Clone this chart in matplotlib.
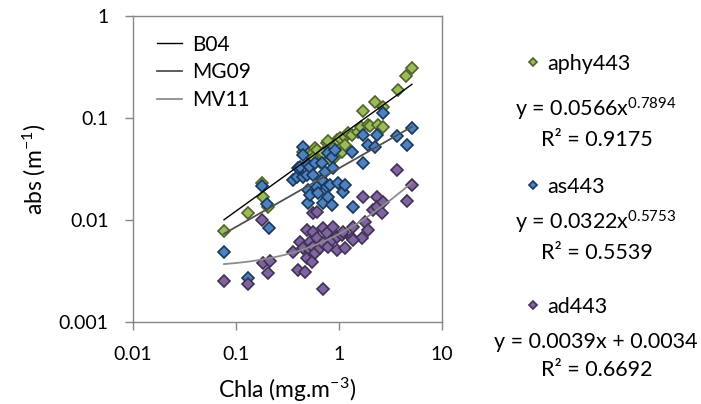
import numpy as np
import matplotlib as mpl
mpl.use('Agg')
import matplotlib.pyplot as plt
from matplotlib.ticker import FixedLocator, FixedFormatter, NullLocator

#
#--- absorption at 443 nm versus chlorophyll a
#
chl_aphy = [0.0765, 0.131, 0.179, 0.183, 0.2045, 0.447, 0.489, 0.535, 0.585, 0.612,
            0.559, 0.654, 0.731, 0.684, 0.765, 0.818, 0.818, 0.914, 0.956, 1.023,
            1.069, 1.144, 1.144, 1.223, 1.337, 1.529, 1.635, 1.71, 1.912, 2.0,
            2.237, 2.392, 2.674, 2.674, 3.74, 4.47, 5.11, 0.782, 0.699]
aphy443 = [0.0078, 0.0117, 0.0231, 0.0168, 0.0134, 0.0464, 0.0454, 0.0434, 0.0508, 0.0486,
           0.0405, 0.0370, 0.0405, 0.0434, 0.0569, 0.0434, 0.0388, 0.0415, 0.0608, 0.0637,
           0.0464, 0.0651, 0.0544, 0.0713, 0.0681, 0.0729, 0.0816, 0.1171, 0.0854, 0.0835,
           0.1435, 0.0854, 0.1282, 0.0816, 0.188, 0.258, 0.309, 0.0595, 0.0454]

chl_as = [0.0765, 0.131, 0.179, 0.200, 0.209, 0.358, 0.391, 0.400, 0.418, 0.447,
          0.447, 0.447, 0.489, 0.500, 0.500, 0.500, 0.523, 0.523, 0.559, 0.585,
          0.612, 0.625, 0.684, 0.684, 0.699, 0.731, 0.765, 0.782, 0.782, 0.818,
          0.855, 0.855, 0.874, 0.914, 0.978, 1.093, 1.144, 1.337, 1.367, 1.71,
          1.71, 1.912, 2.237, 2.339, 2.674, 3.657, 4.574, 5.113]
as443 = [0.00486, 0.00270, 0.0215, 0.0144, 0.00835, 0.0247, 0.0264, 0.0324, 0.0331, 0.0520,
         0.0434, 0.0264, 0.0276, 0.0346, 0.0197, 0.0147, 0.0176, 0.0331, 0.0276, 0.0362,
         0.0211, 0.0184, 0.0362, 0.0247, 0.0147, 0.0296, 0.0211, 0.0454, 0.0168, 0.0220,
         0.0415, 0.0140, 0.0324, 0.0486, 0.0231, 0.0188, 0.0220, 0.0464, 0.0134, 0.0681,
         0.0362, 0.0544, 0.0520, 0.0681, 0.1119, 0.0666, 0.0544, 0.0798]

chl_ad = [0.0765, 0.131, 0.179, 0.183, 0.214, 0.2045, 0.358, 0.400, 0.4675, 0.418,
          0.447, 0.489, 0.489, 0.523, 0.523, 0.547, 0.559, 0.559, 0.559, 0.585,
          0.612, 0.612, 0.654, 0.699, 0.699, 0.699, 0.765, 0.782, 0.855, 0.874,
          0.956, 0.956, 1.069, 1.144, 1.337, 1.367, 1.672, 1.71, 1.788, 1.912,
          2.139, 2.339, 2.339, 2.616, 2.674, 3.657, 4.574, 5.113, 1.367, 1.093]
ad443 = [0.00252, 0.00236, 0.0100, 0.00379, 0.00396, 0.00302, 0.00486, 0.00324, 0.00309, 0.00608,
         0.00531, 0.00798, 0.00424, 0.00608, 0.00508, 0.00388, 0.0117, 0.00763, 0.00544, 0.00475,
         0.0120, 0.00666, 0.00531, 0.00835, 0.00595, 0.00211, 0.00746, 0.00544, 0.00637, 0.00854,
         0.00681, 0.00508, 0.00713, 0.00531, 0.00666, 0.00854, 0.00666, 0.0168, 0.00956, 0.00798,
         0.0125, 0.0168, 0.0134, 0.0117, 0.0150, 0.0309, 0.0154, 0.0220, 0.00637, 0.00763]

#
#--- model curves: power laws a*x^b and one linear fit
#
b04_coef = (0.0654, 0.728)
mg09_coef = (0.0322, 0.5753)
mv11_coef = (0.0039, 0.0034)

series_names = ['aphy443', 'as443', 'ad443']
fit_text = [('y = 0.0566x$^{0.7894}$', 'R\u00b2 = 0.9175'),
            ('y = 0.0322x$^{0.5753}$', 'R\u00b2 = 0.5539'),
            ('y = 0.0039x + 0.0034', 'R\u00b2 = 0.6692')]

face_cols = ['#9BBB59', '#4F81BD', '#8064A2']
edge_cols = ['#4F6228', '#17375E', '#3F3151']

mpl.rcParams['font.family'] = 'Lato'
mpl.rcParams['mathtext.fontset'] = 'custom'
mpl.rcParams['mathtext.rm'] = 'Lato'
mpl.rcParams['mathtext.it'] = 'Lato'
mpl.rcParams['font.size'] = 14

fig = plt.figure(figsize=(7.01, 4.04), dpi=100)
ax = fig.add_axes([0.1897, 0.203, 0.4408, 0.757])

#
#--- scatter data
#
handles = []
for xs, ys, fc, ec in zip([chl_aphy, chl_as, chl_ad], [aphy443, as443, ad443], face_cols, edge_cols):
    p, = ax.plot(xs, ys, 'D', ms=6.0, mfc=fc, mec=ec, mew=1.2, ls='none', zorder=2)
    handles.append(p)

#
#--- model lines over the chl range
#
xr = np.geomspace(min(chl_aphy), max(chl_aphy), 80)
l1, = ax.plot(xr, b04_coef[0] * xr ** b04_coef[1], color='black', lw=1.0, zorder=3)
l2, = ax.plot(xr, mg09_coef[0] * xr ** mg09_coef[1], color='#505050', lw=1.3, zorder=3)
l3, = ax.plot(xr, mv11_coef[0] * xr + mv11_coef[1], color='#8C8C8C', lw=1.3, zorder=3)

ax.set_xscale('log')
ax.set_yscale('log')
ax.set_xlim(0.01, 10)
ax.set_ylim(0.001, 1)
ax.xaxis.set_major_locator(FixedLocator([0.01, 0.1, 1, 10]))
ax.xaxis.set_major_formatter(FixedFormatter(['0.01', '0.1', '1', '10']))
ax.yaxis.set_major_locator(FixedLocator([0.001, 0.01, 0.1, 1]))
ax.yaxis.set_major_formatter(FixedFormatter(['0.001', '0.01', '0.1', '1']))
ax.xaxis.set_minor_locator(NullLocator())
ax.yaxis.set_minor_locator(NullLocator())

for s in ax.spines.values():
    s.set_color('#868686')
    s.set_linewidth(1.0)
ax.tick_params(direction='out', length=5.5, width=1.0, color='#868686', pad=12, labelsize=14)

ax.set_xlabel('Chla (mg.m$^{-3}$)', fontsize=16.5, labelpad=9)
ax.set_ylabel('abs (m$^{-1}$)', fontsize=16.5, labelpad=8)

leg = ax.legend([l1, l2, l3], ['B04', 'MG09', 'MV11'], loc='upper left',
                bbox_to_anchor=(0.078, 0.94), frameon=False, borderpad=0,
                borderaxespad=0, handlelength=1.2, handletextpad=0.5,
                labelspacing=0.38, fontsize=15)

#
#--- series keys and fit equations at the right
#
key_y = [64, 187, 307]
eq_y = [109, 222, 342]
r2_y = [140, 253, 370]
H = 404.0
for i in range(3):
    fig.legend([handles[i]], [series_names[i]], loc='center left',
               bbox_to_anchor=(525 / 701.0, 1 - key_y[i] / H), frameon=False,
               borderpad=0, borderaxespad=0, handlelength=0.75, handletextpad=0.3,
               markerscale=0.7, numpoints=1, fontsize=15.5)
    fig.text(596 / 701.0, 1 - eq_y[i] / H, fit_text[i][0], ha='center', va='center', fontsize=15.5)
    fig.text(597 / 701.0, 1 - r2_y[i] / H, fit_text[i][1], ha='center', va='center', fontsize=15.5)

plt.savefig('out.png', dpi=100)
